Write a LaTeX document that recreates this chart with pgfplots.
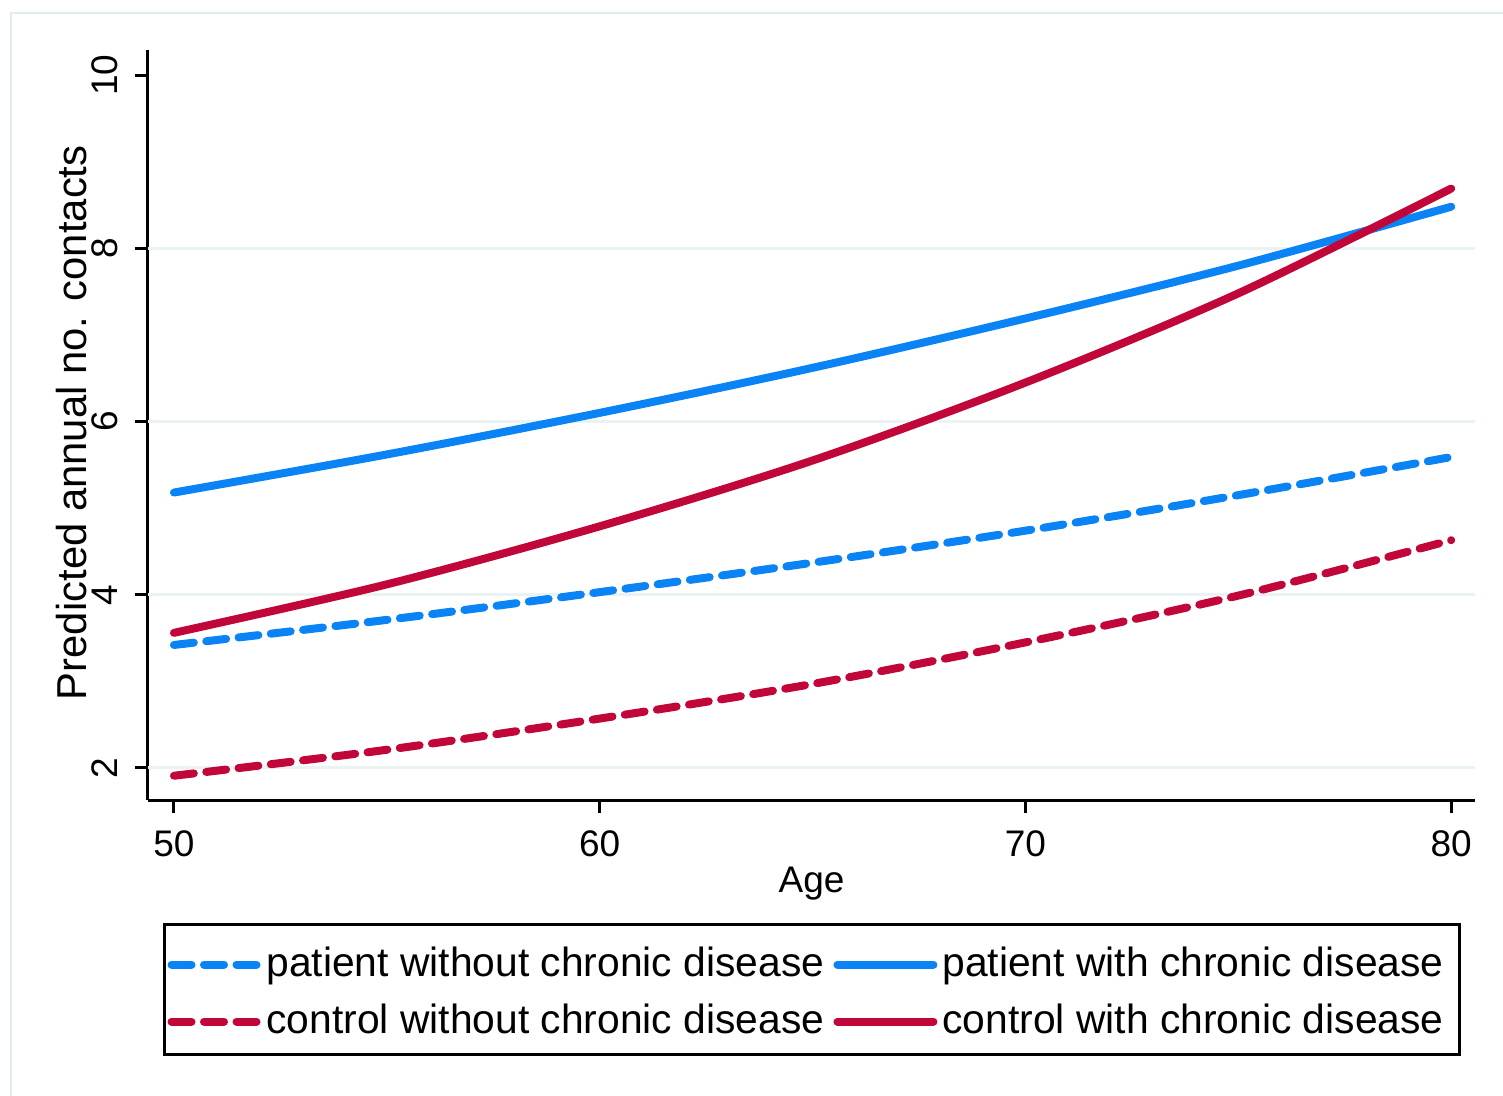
\documentclass[border=0pt]{standalone}
\usepackage{pgfplots}
\pgfplotsset{compat=1.18}
\usetikzlibrary{calc}
\usepackage{fontspec}
\setmainfont{Liberation Sans}
\definecolor{sblue}{RGB}{10,132,245}
\definecolor{sred}{RGB}{193,6,58}
\definecolor{sgrid}{RGB}{234,242,243}
\definecolor{sframe}{RGB}{226,236,238}
\pgfplotsset{dashlegend/.style={legend image code/.code={\draw[##1] (0pt,6pt) -- (43pt,6pt);}}}
\begin{document}
\begin{tikzpicture}
\begin{axis}[
  name=ax,
  width=663.5pt, height=375pt, scale only axis,
  xmin=49.39, xmax=80.56, ymin=1.63, ymax=10.29,
  axis x line=bottom, axis y line=left,
  axis line style={line width=1.5pt, -},
  xtick={50,60,70,80}, ytick={2,4,6,8,10},
  tick align=outside, major tick length=6.5pt,
  tick style={line width=1.5pt, black},
  extra y ticks={2,4,6,8}, extra y tick labels={},
  extra y tick style={ymajorgrids=true, major tick length=0pt},
  major grid style={sgrid, line width=1.5pt},
  ticklabel style={font=\fontsize{18.5}{21}\selectfont},
  /pgf/number format/assume math mode=true,
  yticklabel style={rotate=90, anchor=south, inner xsep=0pt, inner ysep=8.5pt},
  xticklabel style={anchor=north, inner xsep=0pt, inner ysep=8.5pt},
  xlabel={Age},
  xlabel style={at={(axis description cs:0.5,-0.1227)}, anchor=base, font=\fontsize{18.5}{22}\selectfont},
  ylabel={Predicted annual no. contacts},
  ylabel style={at={(axis description cs:-0.046,0.503)}, anchor=base, font=\fontsize{20.9}{24}\selectfont},
  legend columns=2,
  legend cell align=left,
  legend image code/.code={\draw[#1] (0pt,6pt) -- (48pt,6pt);},
  legend style={at={(axis description cs:0.0113,-0.164)}, anchor=north west,
    draw=black, line width=1.5pt, inner xsep=1.5pt, inner ysep=5.5pt, row sep=3pt,
    font=\fontsize{20.4}{24}\selectfont,
    /tikz/every odd column/.append style={column sep=2.5pt},
    /tikz/every even column/.append style={column sep=4.5pt},
    nodes={inner sep=0pt, anchor=base west, text height=20.5pt, text depth=5pt}},
]
\addplot[sblue, line width=4pt, dash pattern=on 10pt off 6.25pt, line cap=round, line join=round, smooth, dashlegend]
  coordinates {(50,3.42) (55,3.71) (60,4.03) (65,4.37) (70,4.74) (75,5.15) (80,5.59)};
\addlegendentry{patient without chronic disease}
\addplot[sblue, line width=4pt, line cap=round, line join=round, smooth]
  coordinates {(50,5.18) (55,5.62) (60,6.10) (65,6.62) (70,7.19) (75,7.80) (80,8.48)};
\addlegendentry{patient with chronic disease\hspace*{6.5pt}}
\addplot[sred, line width=4pt, dash pattern=on 10pt off 6.25pt, line cap=round, line join=round, smooth, dashlegend]
  coordinates {(50,1.91) (55,2.21) (60,2.57) (65,2.97) (70,3.45) (75,3.99) (80,4.63)};
\addlegendentry{control without chronic disease}
\addplot[sred, line width=4pt, line cap=round, line join=round, smooth]
  coordinates {(50,3.56) (55,4.12) (60,4.79) (65,5.55) (70,6.45) (75,7.48) (80,8.69)};
\addlegendentry{control with chronic disease\hspace*{6.5pt}}
\end{axis}
\pgfresetboundingbox
\coordinate (O) at ($(ax.south west)+(-74pt,-148pt)$);
\path[use as bounding box] (O) rectangle ++(751.5pt,548pt);
\draw[sframe, line width=1pt] ($(O)+(5.5pt,0pt)$) -- ($(O)+(5.5pt,541.6pt)$) -- ($(O)+(751.5pt,541.6pt)$);
\end{tikzpicture}
\end{document}
